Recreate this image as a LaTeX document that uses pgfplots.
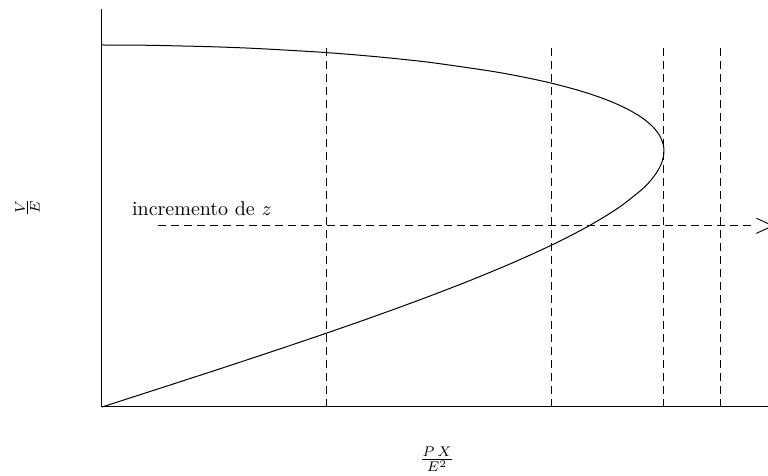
\documentclass[border=0pt]{standalone}
\usepackage{pgfplots}
\pgfplotsset{compat=1.18}

% nose curve: V/E against P X / E^2 for a resistive load
\pgfplotstableread{
p        v
0        0
0.049938 0.05
0.099499 0.10
0.148303 0.15
0.195959 0.20
0.242061 0.25
0.286182 0.30
0.327862 0.35
0.366606 0.40
0.401863 0.45
0.433013 0.50
0.459341 0.55
0.480000 0.60
0.487891 0.625
0.493957 0.65
0.498027 0.675
0.499900 0.70
0.500000 0.7071
0.499343 0.725
0.496078 0.75
0.489770 0.775
0.480000 0.80
0.466235 0.825
0.447766 0.85
0.423608 0.875
0.392301 0.90
0.351469 0.925
0.296637 0.95
0.268800 0.96
0.235812 0.97
0.195017 0.98
0.139656 0.99
0.099376 0.995
0.050000 0.998746
0.025000 0.999687
0        1.0
}\nosecurve

\begin{document}
\begin{tikzpicture}
\begin{axis}[
  x=562pt, y=181pt,
  xmin=0, xmax=0.6, ymin=0, ymax=1.1,
  axis lines=left,
  axis line style={-, line width=0.5pt},
  ticks=none,
  clip=false,
]
\addplot[black, line width=0.5pt, smooth, tension=0.5] table[x=p, y=v] {\nosecurve};

% constant-load lines
\addplot[black, line width=0.5pt, dash pattern=on 4pt off 2.5pt] coordinates {(0.2,0) (0.2,1.0)};
\addplot[black, line width=0.5pt, dash pattern=on 4pt off 2.5pt] coordinates {(0.4,0) (0.4,1.0)};
\addplot[black, line width=0.5pt, dash pattern=on 4pt off 2.5pt] coordinates {(0.5,0) (0.5,1.0)};
\addplot[black, line width=0.5pt, dash pattern=on 4pt off 2.5pt] coordinates {(0.55,0) (0.55,1.0)};

% direction of increasing z
\addplot[black, line width=0.5pt, dash pattern=on 4pt off 2.5pt] coordinates {(0.05,0.5) (0.5783,0.5)};
\node[anchor=west, inner sep=0pt, font=\Large] at (axis cs:0.5795,0.5) {$>$};
\node[anchor=base west, inner sep=0pt] at (axis cs:0.0264,0.530) {incremento de $z$};

% axis labels
\node[rotate=90, inner sep=0pt] at (axis cs:-0.0663,0.552) {$\frac{V}{E}$};
\node[inner sep=0pt] at (axis cs:0.298,-0.1436) {$\frac{P\,X}{E^2}$};

\coordinate (bl) at (axis cs:-0.09075,-0.19061);
\coordinate (tr) at (axis cs:0.59253,1.12431);
\end{axis}
\pgfresetboundingbox
\useasboundingbox (bl) rectangle (tr);
\end{tikzpicture}
\end{document}
